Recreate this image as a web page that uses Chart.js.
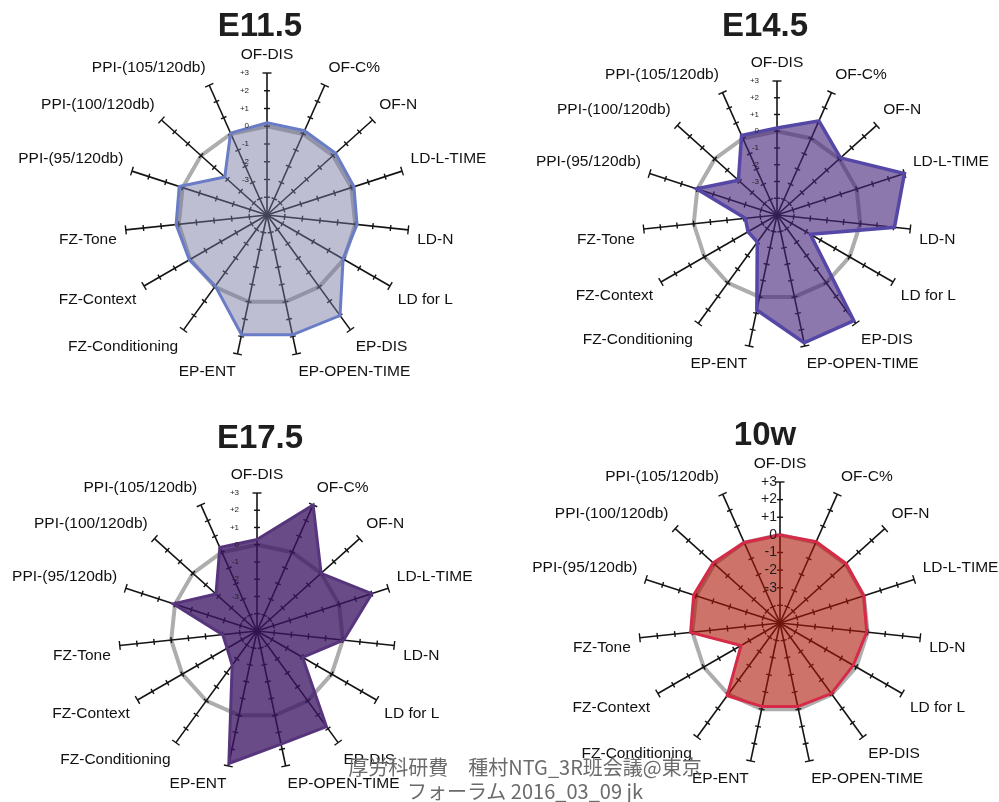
<!DOCTYPE html>
<html>
<head>
<meta charset="utf-8">
<title>Radar profiles E11.5 / E14.5 / E17.5 / 10w</title>
<script src="https://cdn.jsdelivr.net/npm/chart.js@4.4.1/dist/chart.umd.min.js"></script>
<style>
    html, body { margin: 0; padding: 0; background: #fff; }
    body { width: 999px; height: 802px; position: relative; overflow: hidden; font-family: "Liberation Sans", Arial, sans-serif; }
    .panel { position: absolute; }
    .panel canvas { display: block; }
    .panel-title { position: absolute; width: 200px; text-align: center; font-weight: bold; font-size: 33px; line-height: 33px; color: #1e1e1e; }
    .footer { position: absolute; left: 300px; top: 755px; width: 450px; text-align: center; font-family: "Noto Sans CJK JP", sans-serif; font-size: 20px; line-height: 24px; color: #6b6b6b; white-space: nowrap; z-index: 2; }
</style>
</head>
<body>

<div class="panel" style="left:0;top:0;width:500px;height:400px"><canvas id="chart-e115"></canvas></div>
<div class="panel" style="left:500px;top:0;width:510px;height:400px"><canvas id="chart-e145"></canvas></div>
<div class="panel" style="left:0;top:400px;width:500px;height:402px"><canvas id="chart-e175"></canvas></div>
<div class="panel" style="left:500px;top:400px;width:510px;height:402px"><canvas id="chart-10w"></canvas></div>

<div class="panel-title" style="left:160px;top:8px">E11.5</div>
<div class="panel-title" style="left:665px;top:8px">E14.5</div>
<div class="panel-title" style="left:160px;top:420px">E17.5</div>
<div class="panel-title" style="left:665px;top:417px">10w</div>

<div class="footer">厚労科研費　種村NTG_3R班会議@東京<br>フォーラム 2016_03_09 jk</div>

<script>
// axes, clockwise from the top
const axisLabels = [
    'OF-DIS', 'OF-C%', 'OF-N', 'LD-L-TIME', 'LD-N', 'LD for L',
    'EP-DIS', 'EP-OPEN-TIME', 'EP-ENT', 'FZ-Conditioning', 'FZ-Context',
    'FZ-Tone', 'PPI-(95/120db)', 'PPI-(100/120db)', 'PPI-(105/120db)'
];

// scale runs from -5 (centre) to +3; only -3..+3 are labelled
const scaleMin = -5;
const scaleMax = 3;
const tickLabels = ['+3', '+2', '+1', '0', '-1', '-2', '-3'];

// values
const valuesE115 = [0.2, 0.2, 0.2, 0.15, 0.1, -0.05, 2.0, 1.9, 1.9, -0.05, 0.05, 0.15, 0.2, -1.8, 0.05];
const valuesE145 = [0.2, 1.15, 0.1, 3.0, 2.05, -2.7, 2.8, 2.8, 0.8, -3.0, -3.0, -3.1, 0.05, -1.9, 0.2];
const valuesE175 = [0.3, 3.0, 0.0, 2.0, 0.05, -1.95, 1.85, 1.7, 2.85, -2.55, -3.0, -3.0, 0.1, -1.8, 0.3];
const values10w  = [0.0, 0.05, 0.05, 0.0, -0.05, -0.2, -0.05, -0.15, -0.15, 0.1, -2.45, 0.1, 0.15, 0.1, 0.0];

const FONT = '"Liberation Sans", Arial, sans-serif';

function tickText(value) {
    const label = value > 0 ? '+' + value : String(value);
    return tickLabels.includes(label) ? label : '';
}

// small cross bars on every spoke + the value labels up the top spoke
const spokeTicks = {
    id: 'spokeTicks',
    beforeDatasetsDraw(chart) {
        const scale = chart.scales.r;
        const ctx = chart.ctx;
        ctx.save();
        ctx.strokeStyle = '#141414';
        ctx.lineWidth = 1.4;
        for (let i = 0; i < axisLabels.length; i++) {
            const a = scale.getIndexAngle(i) - Math.PI / 2;
            const nx = -Math.sin(a);
            const ny = Math.cos(a);
            scale.ticks.forEach(t => {
                if (t.value <= scaleMin) return;
                const p = scale.getPointPositionForValue(i, t.value);
                const h = t.value === scaleMax ? 4.5 : 3;
                ctx.beginPath();
                ctx.moveTo(p.x - nx * h, p.y - ny * h);
                ctx.lineTo(p.x + nx * h, p.y + ny * h);
                ctx.stroke();
            });
        }
        ctx.restore();
    },
    afterDatasetsDraw(chart, args, opts) {
        const scale = chart.scales.r;
        const ctx = chart.ctx;
        ctx.save();
        ctx.font = opts.size + 'px ' + FONT;
        ctx.fillStyle = opts.color;
        ctx.textAlign = 'right';
        ctx.textBaseline = 'middle';
        scale.ticks.forEach(t => {
            if (!t.label) return;
            const y = scale.yCenter - scale.getDistanceFromCenterForValue(t.value);
            ctx.fillText(t.label, scale.xCenter - opts.offset, y);
        });
        ctx.restore();
    }
};

function makeRadar(canvasId, values, look) {
    return new Chart(document.getElementById(canvasId), {
        type: 'radar',
        data: {
            labels: axisLabels,
            datasets: [{
                data: values,
                fill: 'start',
                backgroundColor: look.fill,
                borderColor: look.border,
                borderWidth: look.borderWidth,
                pointRadius: 0,
                tension: 0
            }]
        },
        options: {
            responsive: true,
            maintainAspectRatio: false,
            animation: false,
            layout: { padding: 0 },
            plugins: {
                legend: { display: false },
                tooltip: { enabled: false },
                spokeTicks: look.ticks
            },
            scales: {
                r: {
                    min: scaleMin,
                    max: scaleMax,
                    ticks: { stepSize: 1, display: false, callback: tickText },
                    grid: {
                        // only the zero ring is drawn
                        color: ctx => ctx.tick && ctx.tick.value === 0 ? '#adadad' : 'transparent',
                        lineWidth: ctx => ctx.tick && ctx.tick.value === 0 ? 4 : 0
                    },
                    angleLines: { color: '#141414', lineWidth: 1.6 },
                    pointLabels: {
                        font: { family: FONT, size: 15.5 },
                        color: '#111',
                        padding: 9
                    },
                    // place the plot where it sits in the picture
                    beforeFit: scale => {
                        scale.xCenter = look.cx;
                        scale.yCenter = look.cy;
                        scale.drawingArea = look.radius;
                    }
                }
            }
        },
        plugins: [spokeTicks]
    });
}

const smallTicks = { size: 8, color: '#222', offset: 18 };

makeRadar('chart-e115', valuesE115, {
    cx: 267, cy: 215, radius: 142,
    fill: 'rgba(120, 120, 160, 0.48)', border: '#6a7cc6', borderWidth: 3,
    ticks: smallTicks
});
makeRadar('chart-e145', valuesE145, {
    cx: 277, cy: 215, radius: 134,
    fill: 'rgba(69, 37, 121, 0.62)', border: '#5547a6', borderWidth: 3.5,
    ticks: smallTicks
});
makeRadar('chart-e175', valuesE175, {
    cx: 257, cy: 231, radius: 138,
    fill: 'rgba(59, 20, 98, 0.765)', border: '#57357c', borderWidth: 3,
    ticks: smallTicks
});
makeRadar('chart-10w', values10w, {
    cx: 280, cy: 223, radius: 141,
    fill: 'rgba(172, 22, 5, 0.6)', border: '#d62a48', borderWidth: 3,
    ticks: { size: 14, color: '#1e1e1e', offset: 3 }
});
</script>
</body>
</html>
